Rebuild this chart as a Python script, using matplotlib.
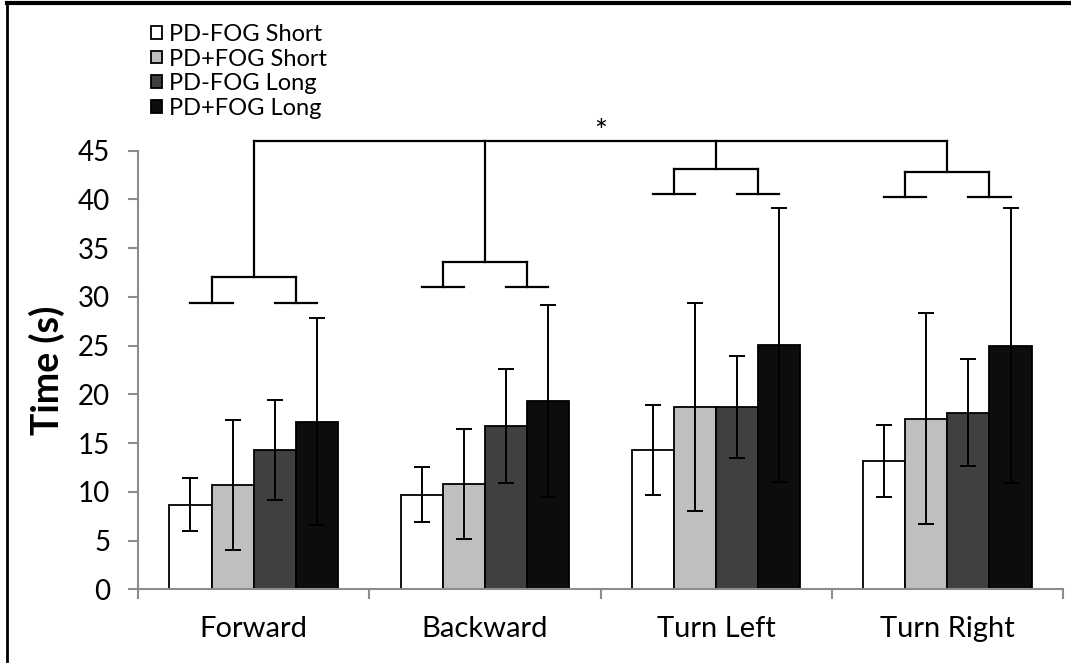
import numpy as np
import matplotlib
matplotlib.use("Agg")
import matplotlib.pyplot as plt
from matplotlib.lines import Line2D

plt.rcParams['font.family'] = ['Lato', 'DejaVu Sans']

# data
categories = ["Forward", "Backward", "Turn Left", "Turn Right"]
series_names = ["PD-FOG Short", "PD+FOG Short", "PD-FOG Long", "PD+FOG Long"]
pd_nofog_short = [8.7, 9.7, 14.3, 13.2]
pd_nofog_short_err = [2.75, 2.8, 4.6, 3.7]
pd_fog_short = [10.7, 10.8, 18.7, 17.5]
pd_fog_short_err = [6.7, 5.65, 10.65, 10.8]
pd_nofog_long = [14.3, 16.8, 18.7, 18.1]
pd_nofog_long_err = [5.1, 5.85, 5.2, 5.5]
pd_fog_long = [17.2, 19.35, 25.1, 25.0]
pd_fog_long_err = [10.6, 9.85, 14.05, 14.1]

# significance brackets (lower bar level, connector level) per category
bracket_low = [29.4, 31.05, 40.6, 40.3]
bracket_conn = [32.0, 33.6, 43.15, 42.85]
top_level = 46.0
star_level = 46.9

colors = ["#FFFFFF", "#BFBFBF", "#404040", "#0D0D0D"]
means = [pd_nofog_short, pd_fog_short, pd_nofog_long, pd_fog_long]
errs = [pd_nofog_short_err, pd_fog_short_err, pd_nofog_long_err, pd_fog_long_err]

fig = plt.figure(figsize=(10.71, 6.63), dpi=100)
ax = fig.add_axes([138 / 1071, 1 - 589.3 / 663, (1063 - 138) / 1071, (589.3 - 150.7) / 663])

x = np.arange(len(categories))
w = 0.182
for i in range(4):
    ax.bar(x + (i - 1.5) * w, means[i], w, color=colors[i], edgecolor="black",
           linewidth=1.3, label=series_names[i], zorder=2)
    ax.errorbar(x + (i - 1.5) * w, means[i], yerr=errs[i], fmt="none",
                ecolor="black", elinewidth=1.4, capsize=6, capthick=1.4, zorder=3)

# brackets
lk = dict(color="black", lw=1.6, clip_on=False, zorder=4)
for c in range(len(categories)):
    for side in (-1, 1):
        pc = x[c] + side * w
        ax.plot([pc - w / 2, pc + w / 2], [bracket_low[c], bracket_low[c]], **lk)
        ax.plot([pc, pc], [bracket_low[c], bracket_conn[c]], **lk)
    ax.plot([x[c] - w, x[c] + w], [bracket_conn[c], bracket_conn[c]], **lk)
    ax.plot([x[c], x[c]], [bracket_conn[c], top_level], **lk)
ax.plot([x[0], x[-1]], [top_level, top_level], **lk)
ax.text((x[1] + x[2]) / 2, star_level, "*", ha="center", va="center", fontsize=22)

ax.set_xlim(-0.5, 3.5)
ax.set_ylim(0, 45)
ax.set_yticks(np.arange(0, 46, 5))
ax.set_xticks(x)
ax.set_xticklabels(categories)
ax.set_xticks(np.arange(-0.5, 4, 1), minor=True)
ax.tick_params(axis="x", which="major", length=0, pad=19, labelsize=21)
ax.tick_params(axis="x", which="minor", length=7, width=1.5, color="#8C8C8C", direction="out")
ax.tick_params(axis="y", length=7, width=1.5, color="#8C8C8C", pad=13, labelsize=20)
for s in ("top", "right"):
    ax.spines[s].set_visible(False)
for s in ("left", "bottom"):
    ax.spines[s].set_color("#8C8C8C")
    ax.spines[s].set_linewidth(1.5)
ax.set_ylabel("Time (s)", fontsize=27, fontweight="bold")
ax.yaxis.set_label_coords(-0.079, 0.5)

fig.legend(loc="upper left", bbox_to_anchor=(151 / 1071, 1 - 24 / 663), frameon=False,
           fontsize=17, handlelength=0.45, handleheight=0.45, handletextpad=0.3,
           labelspacing=0.15, borderpad=0, borderaxespad=0)

# outer border (left and top edges are visible)
fig.add_artist(Line2D([7 / 1071, 7 / 1071], [1 - 3 / 663, 1 - 661 / 663], color="black", lw=2))
fig.add_artist(Line2D([7 / 1071, 1.0], [1 - 3 / 663, 1 - 3 / 663], color="black", lw=3))

fig.savefig("out.png", dpi=100, facecolor="white")
